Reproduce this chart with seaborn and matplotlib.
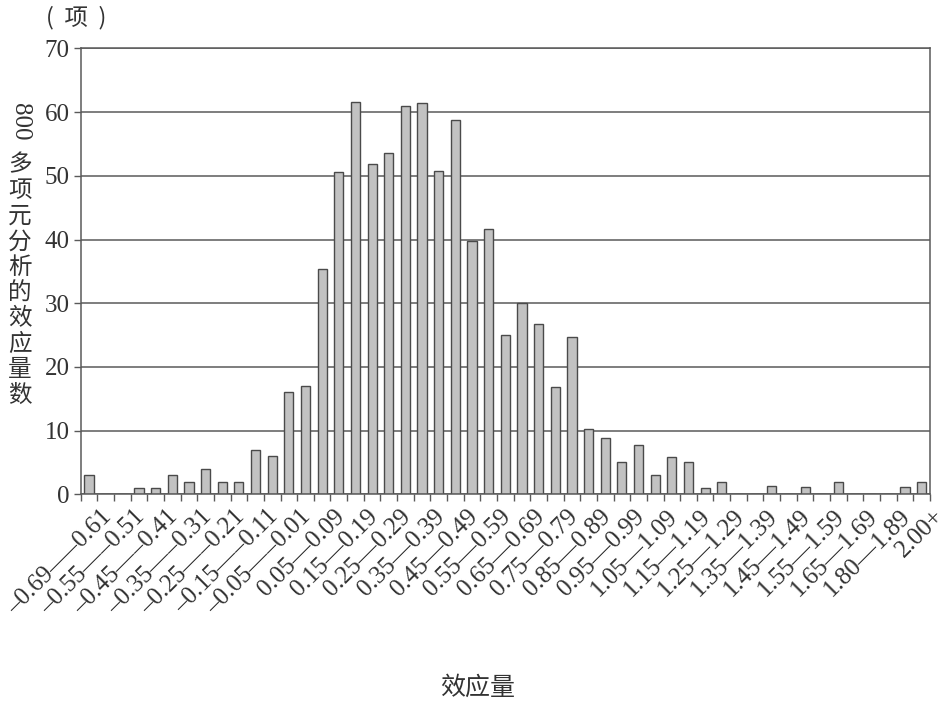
import seaborn as sns
import matplotlib.pyplot as plt
import matplotlib.transforms as mtransforms
import numpy as np
import pandas as pd

# effect size bins (every other one is labelled on the axis)
bins = [
    '–0.69—–0.61', '–0.60—–0.56', '–0.55—–0.51', '–0.50—–0.46', '–0.45—–0.41',
    '–0.40—–0.36', '–0.35—–0.31', '–0.30—–0.26', '–0.25—–0.21', '–0.20—–0.16',
    '–0.15—–0.11', '–0.10—–0.06', '–0.05—–0.01', '0.00—0.04', '0.05—0.09',
    '0.10—0.14', '0.15—0.19', '0.20—0.24', '0.25—0.29', '0.30—0.34',
    '0.35—0.39', '0.40—0.44', '0.45—0.49', '0.50—0.54', '0.55—0.59',
    '0.60—0.64', '0.65—0.69', '0.70—0.74', '0.75—0.79', '0.80—0.84',
    '0.85—0.89', '0.90—0.94', '0.95—0.99', '1.00—1.04', '1.05—1.09',
    '1.10—1.14', '1.15—1.19', '1.20—1.24', '1.25—1.29', '1.30—1.34',
    '1.35—1.39', '1.40—1.44', '1.45—1.49', '1.50—1.54', '1.55—1.59',
    '1.60—1.64', '1.65—1.69', '1.70—1.79', '1.80—1.89', '1.90—1.99',
    '2.00+',
]
counts = [
    3, 0, 0, 1, 1, 3, 2, 4, 2, 2,
    7, 6, 16, 17, 35.3, 50.6, 61.6, 51.8, 53.6, 60.9,
    61.5, 50.8, 58.8, 39.8, 41.6, 25, 30, 26.7, 16.9, 24.7,
    10.2, 8.9, 5, 7.8, 3, 5.9, 5, 1, 2, 0,
    0, 1.3, 0, 1.1, 0, 2, 0, 0, 0, 1.2,
    2,
]

df = pd.DataFrame({'bin': bins, 'n': counts})

sns.set_style('white')
serif = ['Liberation Serif', 'DejaVu Serif']
cjk = ['Noto Sans CJK SC', 'DejaVu Sans']
plt.rcParams['font.family'] = serif
text_col = '#333333'
line_col = '#5a5a5a'

fig = plt.figure(figsize=(9.48, 7.02), dpi=100)
ax = fig.add_axes([0.0851, 0.2959, 0.981 - 0.0851, 0.931 - 0.2959])

sns.barplot(data=df, x='bin', y='n', order=bins, ax=ax, width=0.55,
            color='#c2c2c2', edgecolor='#4a4a4a', linewidth=1.0,
            saturation=1)

ax.set_xlim(-0.5, len(bins) - 0.5)
ax.set_ylim(0, 70)
ax.set_yticks(range(0, 71, 10))
ax.yaxis.grid(True, color=line_col, linewidth=1.1)
ax.set_axisbelow(True)
for s in ax.spines.values():
    s.set_color(line_col)
    s.set_linewidth(1.1)

# boundary ticks without labels, labels on every other bin
ax.set_xticks(np.arange(-0.5, len(bins), 1))
ax.set_xticklabels([])
ax.set_xticks(np.arange(0, len(bins), 2), minor=True)
ax.set_xticklabels(bins[::2], minor=True, rotation=45, ha='right', va='center',
                   rotation_mode='anchor', fontsize=18, color=text_col)
ax.tick_params(axis='x', which='major', length=5, width=1, color=line_col,
               direction='out', bottom=True)
ax.tick_params(axis='x', which='minor', length=0, pad=2)
off = mtransforms.ScaledTranslation(0.19, -0.16, fig.dpi_scale_trans)
for lab in ax.get_xticklabels(minor=True):
    lab.set_transform(lab.get_transform() + off)

ax.tick_params(axis='y', length=5, width=1, color=line_col, direction='out',
               left=True, labelsize=18, labelcolor=text_col, pad=3)
ax.set_xlabel('')
ax.set_ylabel('')

# axis titles
fig.text(76 / 948, 1 - 18 / 702, '(  项  )', family=cjk, fontsize=17,
         color=text_col, ha='center', va='center')
fig.text(20 / 948, 1 - 122 / 702, '800', family=serif, fontsize=18,
         color=text_col, rotation=-90, ha='center', va='center')
for i, ch in enumerate('多项元分析的效应量数'):
    fig.text(20 / 948, 1 - (165 + 25.6 * i) / 702, ch, family=cjk,
             fontsize=17, color=text_col, ha='center', va='center')
fig.text(478 / 948, 1 - 688 / 702, '效应量', family=cjk, fontsize=18,
         color=text_col, ha='center', va='center')

fig.savefig('out.png', dpi=100)
